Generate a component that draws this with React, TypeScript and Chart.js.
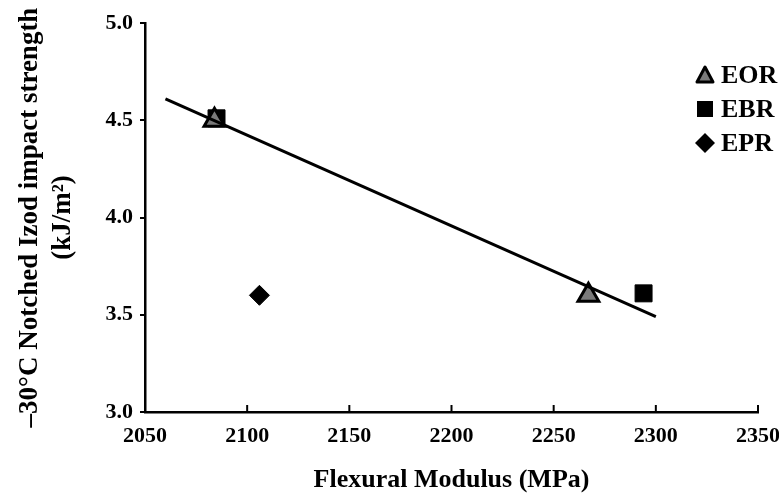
import React, { useEffect, useRef } from "react";
import { Chart, registerables } from "chart.js";

Chart.register(...registerables);

const eorX = [2084, 2267];
const eorY = [4.5, 3.6];
const ebrX = [2085, 2294];
const ebrY = [4.51, 3.61];
const eprX = [2106];
const eprY = [3.6];
const fitX = [2060, 2300];
const fitY = [4.61, 3.49];
const legendLabels = ["EOR", "EBR", "EPR"];
const xTitle = "Flexural Modulus (MPa)";
const yTitle = ["\u201330\u00b0C Notched Izod impact strength", "(kJ/m\u00b2)"];

const FONT = "'Liberation Serif', 'Times New Roman', serif";

const toPts = (xs: number[], ys: number[]) => xs.map((x, i) => ({ x, y: ys[i] }));

const xTickPlugin = {
  id: "xInwardTicks",
  afterDraw(chart: any) {
    const { ctx } = chart;
    const xs = chart.scales.x;
    const bottom = chart.chartArea.bottom;
    ctx.save();
    ctx.strokeStyle = "#000";
    ctx.lineWidth = 2;
    xs.ticks.forEach((t: any, i: number) => {
      if (i === 0) return;
      const px = xs.getPixelForValue(t.value);
      ctx.beginPath();
      ctx.moveTo(px, bottom);
      ctx.lineTo(px, bottom - 7);
      ctx.stroke();
    });
    ctx.restore();
  },
};

const legendPlugin = {
  id: "customLegend",
  afterDraw(chart: any) {
    const { ctx } = chart;
    ctx.save();
    const mx = 705;
    const tx = 721;
    const rows = [75, 109, 143];
    ctx.font = `bold 26px ${FONT}`;
    ctx.textBaseline = "middle";
    ctx.textAlign = "left";
    ctx.fillStyle = "#000";
    rows.forEach((ry, i) => {
      ctx.beginPath();
      if (i === 0) {
        ctx.moveTo(mx, ry - 8);
        ctx.lineTo(mx + 8, ry + 7);
        ctx.lineTo(mx - 8, ry + 7);
        ctx.closePath();
        ctx.fillStyle = "#7a7a7a";
        ctx.fill();
        ctx.strokeStyle = "#000";
        ctx.lineWidth = 3;
        ctx.lineJoin = "round";
        ctx.stroke();
      } else if (i === 1) {
        ctx.fillStyle = "#000";
        ctx.rect(mx - 8, ry - 8, 16, 16);
        ctx.fill();
      } else {
        ctx.fillStyle = "#000";
        ctx.moveTo(mx, ry - 10);
        ctx.lineTo(mx + 10, ry);
        ctx.lineTo(mx, ry + 10);
        ctx.lineTo(mx - 10, ry);
        ctx.closePath();
        ctx.fill();
      }
      ctx.fillStyle = "#000";
      ctx.fillText(legendLabels[i], tx, ry + 1);
    });
    ctx.restore();
  },
};

export default function App() {
  const ref = useRef<HTMLCanvasElement>(null);
  useEffect(() => {
    if (!ref.current) return;
    const chart = new Chart(ref.current, {
      type: "scatter",
      data: {
        datasets: [
          {
            type: "line",
            label: "fit",
            data: toPts(fitX, fitY),
            borderColor: "#000",
            borderWidth: 3,
            pointRadius: 0,
            showLine: true,
            fill: false,
          } as any,
          {
            label: "EOR",
            data: toPts(eorX, eorY),
            pointStyle: "triangle",
            pointRadius: 12,
            backgroundColor: "#7a7a7a",
            borderColor: "#000",
            borderWidth: 3,
          },
          {
            label: "EBR",
            data: toPts(ebrX, ebrY),
            pointStyle: "rect",
            pointRadius: 12,
            backgroundColor: "#000",
            borderColor: "#000",
            borderWidth: 1,
          },
          {
            label: "EPR",
            data: toPts(eprX, eprY),
            pointStyle: "rectRot",
            pointRadius: 10,
            backgroundColor: "#000",
            borderColor: "#000",
            borderWidth: 1,
          },
        ],
      },
      options: {
        animation: false,
        responsive: true,
        maintainAspectRatio: false,
        layout: { padding: { left: 0, right: 21, top: 23, bottom: 0 } },
        plugins: { legend: { display: false }, tooltip: { enabled: false } },
        scales: {
          x: {
            type: "linear",
            min: 2050,
            max: 2350,
            ticks: {
              stepSize: 50,
              color: "#000",
              font: { family: FONT, size: 22, weight: "bold" },
              padding: 11,
              maxRotation: 0,
              callback: (v: any) => String(v),
            },
            grid: { display: false, drawTicks: false },
            border: { display: true, color: "#000", width: 2.5 },
            title: {
              display: true,
              text: xTitle,
              color: "#000",
              font: { family: FONT, size: 26, weight: "bold" },
              padding: { top: 0, bottom: 1 },
            },
            afterFit: (s: any) => {
              s.height = 85;
              s.paddingRight = 0;
              s.paddingLeft = 0;
            },
          },
          y: {
            type: "linear",
            min: 3.0,
            max: 5.0,
            ticks: {
              stepSize: 0.5,
              color: "#000",
              font: { family: FONT, size: 22, weight: "bold" },
              padding: 7,
              callback: (v: any) => Number(v).toFixed(1),
            },
            grid: {
              display: true,
              drawOnChartArea: false,
              drawTicks: true,
              tickLength: 5,
              color: "#000",
              lineWidth: 2,
            },
            border: { display: true, color: "#000", width: 2.5 },
            title: {
              display: true,
              text: yTitle,
              color: "#000",
              font: { family: FONT, size: 27, weight: "bold", lineHeight: 1.22 },
              padding: { top: 14, bottom: 0 },
            },
            afterFit: (s: any) => {
              s.width = 145;
              s.paddingTop = 0;
              s.paddingBottom = 0;
            },
          },
        },
      },
      plugins: [xTickPlugin, legendPlugin],
    });
    return () => chart.destroy();
  }, []);
  return (
    <div style={{ position: "fixed", left: 0, top: 0, width: 779, height: 497, background: "#fff" }}>
      <canvas ref={ref} />
    </div>
  );
}
